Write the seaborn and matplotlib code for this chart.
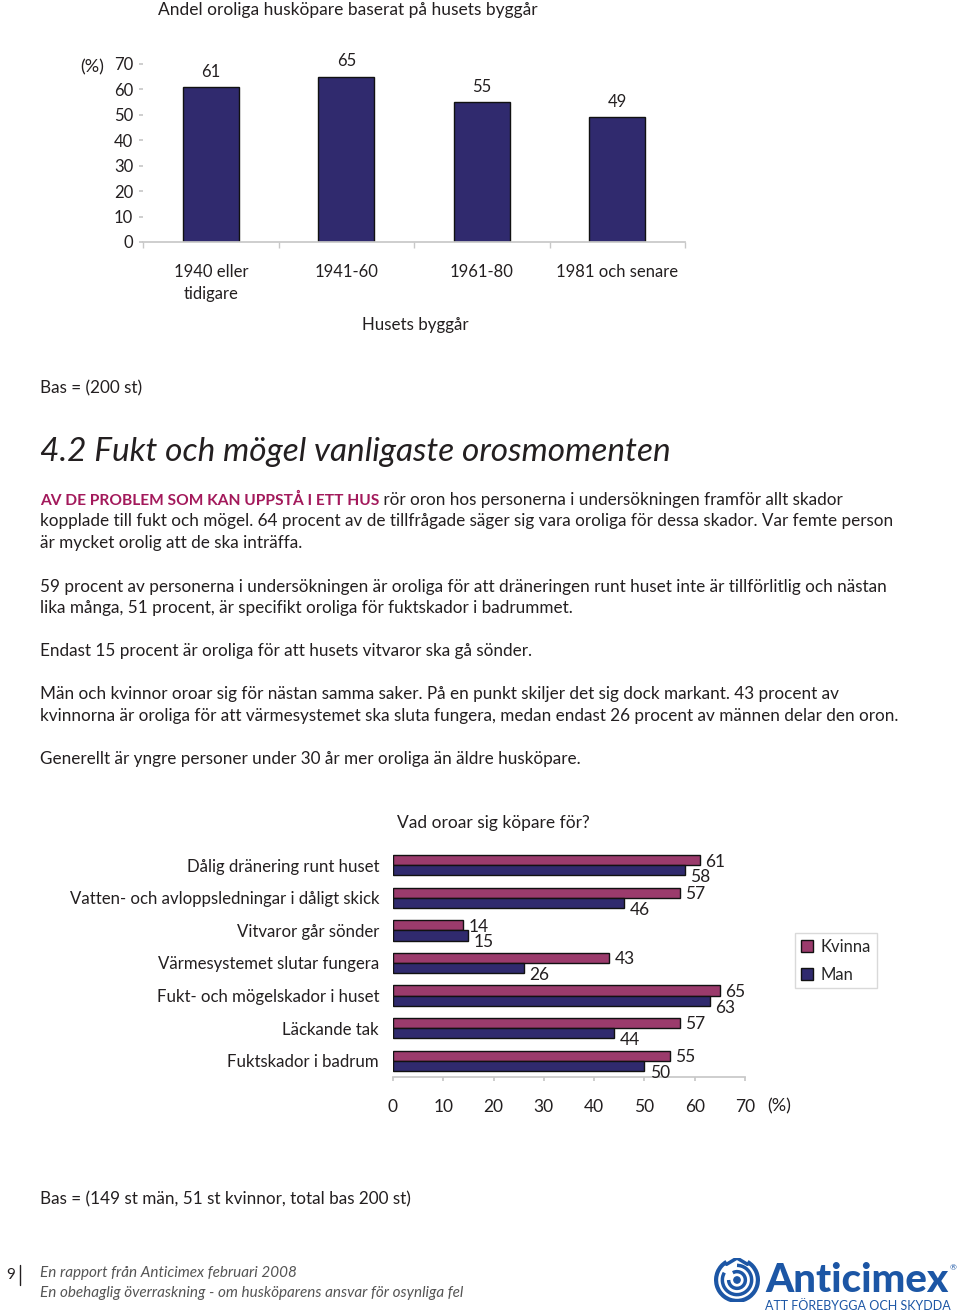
import matplotlib
matplotlib.use('Agg')
import matplotlib.pyplot as plt
import seaborn as sns
import pandas as pd
from matplotlib.patches import Arc, Circle
from matplotlib.lines import Line2D

sns.set_theme(style='white')
plt.rcParams['font.family'] = ['Lato', 'DejaVu Sans']

# ---------------- data ----------------
year_categories = ['1940 eller\ntidigare', '1941-60', '1961-80', '1981 och senare']
year_values = [61, 65, 55, 49]
year_ticks = [0, 10, 20, 30, 40, 50, 60, 70]

worry_categories = ['Dålig dränering runt huset',
                    'Vatten- och avloppsledningar i dåligt skick',
                    'Vitvaror går sönder',
                    'Värmesystemet slutar fungera',
                    'Fukt- och mögelskador i huset',
                    'Läckande tak',
                    'Fuktskador i badrum']
kvinna_values = [61, 57, 14, 43, 65, 57, 55]
man_values = [58, 46, 15, 26, 63, 44, 50]
gender_labels = ['Kvinna', 'Man']
worry_ticks = [0, 10, 20, 30, 40, 50, 60, 70]

W, H = 960, 1312
TXT = '#231f20'
NAVY = '#302a6e'
PLUM = '#9b3b6c'
MAG = '#a3195b'
BLUE = '#1c56a5'
GRID = '#c8c8c8'

fig = plt.figure(figsize=(9.6, 13.12), dpi=100)
fig.patch.set_facecolor('white')


def fx(px):
    return px / W


def fy(py):
    return 1 - py / H


# ---------------- top chart ----------------
ax1 = fig.add_axes([fx(143), fy(242), (685 - 143) / W, (242 - 64) / H])
sns.barplot(x=year_categories, y=year_values, color=NAVY, width=0.41,
            saturation=1, edgecolor='#111111', linewidth=1, ax=ax1)
ax1.set_ylim(0, 70)
ax1.set_xlim(-0.5, 3.5)
ax1.set_yticks(year_ticks)
ax1.set_yticklabels([str(t) for t in year_ticks])
ax1.set_xticks(range(len(year_categories)))
ax1.set_xticklabels(year_categories, linespacing=1.5)
ax1.set_xticks([i - 0.5 for i in range(len(year_categories) + 1)], minor=True)
ax1.tick_params(axis='y', left=True, length=3, color=GRID, pad=4,
                labelsize=12, labelcolor=TXT)
ax1.tick_params(axis='x', which='major', bottom=True, length=0, pad=15.5,
                labelsize=12, labelcolor=TXT)
ax1.tick_params(axis='x', which='minor', bottom=True, length=4, color=GRID)
for s in ['top', 'right', 'left']:
    ax1.spines[s].set_visible(False)
ax1.spines['bottom'].set_color(GRID)
ax1.set_xlabel('')
ax1.set_ylabel('')
for i, v in enumerate(year_values):
    ax1.annotate(str(v), (i, v), xytext=(0, 11), textcoords='offset points',
                 ha='center', va='center', fontsize=12, color=TXT)

fig.text(fx(158), fy(10), 'Andel oroliga husköpare baserat på husets byggår',
         ha='left', va='center', fontsize=12.5, color=TXT)
fig.text(fx(92), fy(67), '(%)', ha='center', va='center', fontsize=13, color=TXT)
fig.text(fx(415), fy(325), 'Husets byggår', ha='center', va='center',
         fontsize=12.2, color=TXT)

# ---------------- body text ----------------
BODY = 12.3
fig.text(fx(40), fy(388), 'Bas = (200 st)', ha='left', va='center',
         fontsize=BODY, color=TXT)
fig.text(fx(40), fy(452), '4.2 Fukt och mögel vanligaste orosmomenten',
         ha='left', va='center', fontsize=24, style='italic', color=TXT)

prefix = fig.text(fx(40), fy(500), 'AV DE PROBLEM SOM KAN UPPSTÅ I ETT HUS',
                  ha='left', va='center', fontsize=11.2, fontweight='bold',
                  color=MAG)
fig.canvas.draw()
bb = prefix.get_window_extent()
fig.text(bb.x1 / W, fy(500), ' rör oron hos personerna i undersökningen framför allt skador',
         ha='left', va='center', fontsize=BODY, color=TXT)

body_lines = [
    (521, 'kopplade till fukt och mögel. 64 procent av de tillfrågade säger sig vara oroliga för dessa skador. Var femte person'),
    (543, 'är mycket orolig att de ska inträffa.'),
    (587, '59 procent av personerna i undersökningen är oroliga för att dräneringen runt huset inte är tillförlitlig och nästan'),
    (608, 'lika många, 51 procent, är specifikt oroliga för fuktskador i badrummet.'),
    (651, 'Endast 15 procent är oroliga för att husets vitvaror ska gå sönder.'),
    (694, 'Män och kvinnor oroar sig för nästan samma saker. På en punkt skiljer det sig dock markant. 43 procent av'),
    (716, 'kvinnorna är oroliga för att värmesystemet ska sluta fungera, medan endast 26 procent av männen delar den oron.'),
    (759, 'Generellt är yngre personer under 30 år mer oroliga än äldre husköpare.'),
]
for y, t in body_lines:
    fig.text(fx(40), fy(y), t, ha='left', va='center', fontsize=BODY, color=TXT)

# ---------------- bottom chart ----------------
df = pd.DataFrame({
    'category': worry_categories * 2,
    'gender': [gender_labels[0]] * len(worry_categories) + [gender_labels[1]] * len(worry_categories),
    'value': kvinna_values + man_values,
})
ax2 = fig.add_axes([fx(393), fy(1077), (745 - 393) / W, (1077 - 849) / H])
BW = 0.62
sns.barplot(data=df, y='category', x='value', hue='gender', orient='h',
            palette=[PLUM, NAVY], width=BW, saturation=1,
            edgecolor='#111111', linewidth=1, ax=ax2)
ax2.set_xlim(0, 70)
ax2.set_ylim(len(worry_categories) - 0.5, -0.5)
ax2.set_xticks(worry_ticks)
ax2.set_xticklabels([str(t) for t in worry_ticks])
ax2.tick_params(axis='x', bottom=True, length=3, color=GRID, pad=13,
                labelsize=12.5, labelcolor=TXT)
ax2.tick_params(axis='y', left=False, length=0, pad=10, labelsize=12.1,
                labelcolor=TXT)
for s in ['top', 'right', 'left']:
    ax2.spines[s].set_visible(False)
ax2.spines['bottom'].set_color(GRID)
ax2.set_xlabel('')
ax2.set_ylabel('')

for i, (k, m) in enumerate(zip(kvinna_values, man_values)):
    ax2.annotate(str(k), (k, i - BW / 4), xytext=(4, -1), textcoords='offset points',
                 ha='left', va='center', fontsize=12.5, color=TXT)
    ax2.annotate(str(m), (m, i + BW / 4), xytext=(4, -5), textcoords='offset points',
                 ha='left', va='center', fontsize=12.5, color=TXT)

handles, labels = ax2.get_legend_handles_labels()
ax2.legend(handles, labels, loc='upper left', bbox_to_anchor=(fx(795), fy(933)),
           bbox_transform=fig.transFigure, frameon=True, fancybox=False,
           edgecolor='#d0d0d0', handlelength=0.7, handleheight=0.7,
           handletextpad=0.5, borderpad=0.35, labelspacing=0.7,
           fontsize=12, borderaxespad=0)

fig.text(fx(397), fy(823), 'Vad oroar sig köpare för?', ha='left', va='center',
         fontsize=12.5, color=TXT)
fig.text(fx(779), fy(1106), '(%)', ha='center', va='center', fontsize=13, color=TXT)
fig.text(fx(40), fy(1199), 'Bas = (149 st män, 51 st kvinnor, total bas 200 st)',
         ha='left', va='center', fontsize=BODY, color=TXT)

# ---------------- footer ----------------
fig.text(fx(6), fy(1275), '9', ha='left', va='center', fontsize=11, color=TXT)
fig.add_artist(Line2D([fx(20), fx(20)], [fy(1265), fy(1285)], color=TXT, lw=1))
fig.text(fx(40), fy(1273), 'En rapport från Anticimex februari 2008', ha='left',
         va='center', fontsize=11, style='italic', color='#555555')
fig.text(fx(40), fy(1293), 'En obehaglig överraskning - om husköparens ansvar för osynliga fel',
         ha='left', va='center', fontsize=11, style='italic', color='#555555')

logo = fig.text(fx(765), fy(1280), 'Anticimex', ha='left', va='center', fontsize=29,
                fontweight='black', color=BLUE)
fig.canvas.draw()
lb = logo.get_window_extent()
fig.text(lb.x1 / W + 0.001, fy(1268), '®', ha='left', va='center', fontsize=6, color=BLUE)
fig.text(fx(765), fy(1306), 'ATT FÖREBYGGA OCH SKYDDA', ha='left', va='center',
         fontsize=9, color=BLUE)

axl = fig.add_axes([fx(714), fy(1302), 46 / W, 44 / H])
axl.set_xlim(-1.1, 1.1)
axl.set_ylim(-1.05, 1.05)
axl.set_aspect('equal')
axl.axis('off')
axl.add_patch(Arc((0, 0), 2.0, 2.0, theta1=120, theta2=60, color=BLUE, lw=3))
axl.add_patch(Arc((0, 0), 1.4, 1.4, theta1=150, theta2=90, color=BLUE, lw=2.5))
axl.add_patch(Arc((0, 0), 0.8, 0.8, theta1=180, theta2=120, color=BLUE, lw=2.5))
axl.add_patch(Circle((0, 0), 0.15, color=BLUE))
axl.plot([-0.5, 0, 0.5], [0.75, 1.05, 0.75], color=BLUE, lw=2.5)

fig.savefig('out.png', dpi=100, facecolor='white')
